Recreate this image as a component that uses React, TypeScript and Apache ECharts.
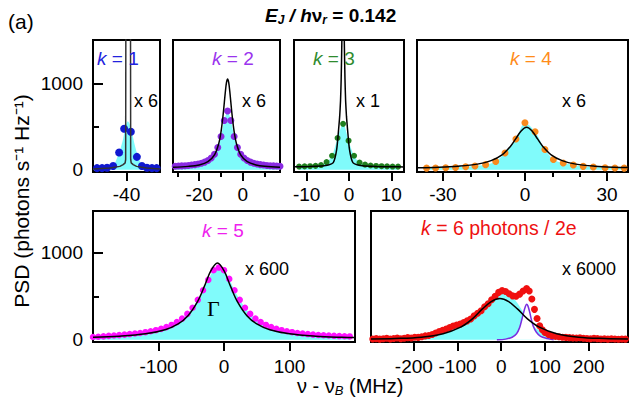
import React, { useEffect, useRef } from "react";
import * as echarts from "echarts";

const FONT = "'Liberation Sans', Arial, Helvetica, sans-serif";
const CYAN = "#80fbfb";

// ---------- k = 1 ----------
const k1PointsX = [-48.8, -47.3, -45.8, -44.0, -42.2, -40.7, -38.7, -36.9, -35.4, -33.9, -32.4, -31.0];
const k1PointsY = [20, 20, 25, 45, 200, 475, 440, 150, 45, 25, 20, 20];
const k1FillX = [-50, -46, -44, -43, -42, -41, -40.3, -39.6, -39, -38.3, -37.5, -36.8, -36, -35, -34, -30];
const k1FillY = [15, 20, 40, 120, 220, 360, 500, 560, 520, 420, 280, 180, 100, 50, 30, 15];
const k1FitX = [-50, -45, -42, -41, -40.4, -40.25, -40.15, -38.85, -38.75, -38.6, -38, -37, -34, -30];
const k1FitY = [10, 20, 40, 60, 80, 120, 3000, 3000, 120, 80, 60, 40, 20, 10];

// ---------- k = 2 ----------
const k2PointsX = [-31, -29.5, -28, -26.5, -25, -23.5, -22, -20.5, -19, -17.5, -16, -14.5, -13, -11.5, -10, -8.5, -7, -5.5, -4, -2.5, -1, 0.5, 2, 3.5, 5, 6.5, 8, 9.5, 11, 12.5, 14, 15.5, 17];
const k2PointsY = [42, 44, 46, 48, 51, 55, 60, 67, 76, 89, 107, 136, 181, 257, 386, 569, 680, 569, 386, 257, 181, 136, 107, 89, 76, 67, 60, 55, 51, 48, 46, 44, 42];
const k2FitX = [-32, -25, -20, -16, -13, -11, -10, -9, -8, -7.5, -7, -6.5, -6, -5, -4, -3, -1, 2, 6, 10, 17];
const k2FitY = [30, 40, 57, 94, 172, 309, 442, 648, 908, 1010, 1050, 1010, 908, 648, 442, 309, 172, 94, 57, 42, 31];

// ---------- k = 3 ----------
const k3PointsX = [-11.8, -10.5, -9.2, -7.9, -6.6, -5.3, -4.0, -2.7, -1.4, -0.1, 1.2, 2.5, 3.8, 5.1, 6.4, 7.7, 9.0, 10.3, 11.6];
const k3PointsY = [38, 40, 42, 46, 55, 90, 163, 368, 531, 337, 163, 85, 60, 50, 45, 42, 40, 38, 37];
const k3FitX = [-13, -9.4, -6.4, -4.9, -3.7, -2.9, -2.4, -2.2, -2.0, -1.85, -1.7, -1.55, -1.4, -1.25, -1.1, -0.95, -0.8, -0.6, -0.4, 0.1, 0.9, 2.1, 3.6, 6.6, 10.2, 13];
const k3FitY = [35, 38, 45, 55, 85, 240, 500, 620, 800, 1050, 1450, 2000, 2400, 2000, 1450, 1050, 800, 620, 500, 240, 85, 55, 45, 38, 35, 34];

// ---------- k = 4 ----------
const k4PointsX = [-36, -32.7, -29, -25.4, -21.7, -18.3, -14.4, -10.7, -7.3, -3.3, 0, 3.7, 7.3, 10.4, 14, 17.7, 21.3, 25, 29.3, 32.9, 36.3];
const k4PointsY = [20, 22, 25, 28, 35, 45, 60, 97, 194, 357, 545, 440, 235, 120, 78, 55, 40, 32, 25, 22, 20];
const k4FitX = [-39.5, -31.4, -24.4, -17.4, -12.4, -8.4, -5.4, -3.4, -1.4, 0.6, 2.6, 4.6, 6.6, 9.6, 13.6, 18.6, 25.6, 32.6, 37.7];
const k4FitY = [24, 30, 42, 66, 106, 173, 268, 357, 449, 492, 449, 357, 268, 173, 106, 66, 42, 30, 26];

// ---------- k = 5 ----------
const k5PointsX = [-200, -192, -184, -176, -168, -160, -152, -144, -136, -128, -120, -112, -104, -96, -88, -80, -72, -64, -56, -48, -40, -32, -24, -16, -8, 0, 8, 16, 24, 32, 40, 48, 56, 64, 72, 80, 88, 96, 104, 112, 120, 128, 136, 144, 152, 160, 168, 176, 184, 192];
const k5PointsY = [32, 36, 40, 45, 50, 54, 60, 66, 72, 79, 88, 98, 111, 126, 146, 171, 203, 244, 298, 368, 459, 569, 689, 800, 830, 800, 700, 569, 459, 368, 298, 244, 203, 171, 146, 126, 111, 98, 88, 79, 72, 66, 60, 56, 52, 49, 46, 43, 41, 39];
const k5FitX = [-200, -160, -120, -90, -70, -55, -40, -30, -20, -10, 0, 10, 20, 35, 50, 70, 100, 140, 180, 200];
const k5FitY = [29, 42, 69, 116, 183, 277, 445, 614, 795, 883, 795, 614, 445, 277, 183, 116, 69, 42, 29, 26];

// ---------- k = 6 ----------
const k6PointsX = [-294, -286, -278, -270, -262, -254, -246, -238, -230, -222, -214, -206, -198, -190, -182, -174, -166, -158, -150, -142, -134, -126, -118, -110, -102, -94, -86, -78, -70, -62, -54, -46, -38, -30, -22, -14, -6, 2, 10, 18, 26, 34, 42, 50, 58, 64, 70, 76, 82, 88, 94, 100, 108, 116, 124, 132, 140, 148, 156, 164, 172, 180, 188, 196, 204, 212, 220, 228, 236, 244, 252, 260, 268, 276, 284];
const k6PointsY = [10, 14, 8, 12, 18, 10, 15, 20, 12, 18, 25, 20, 30, 28, 35, 45, 50, 62, 78, 95, 110, 125, 140, 158, 170, 180, 200, 218, 240, 275, 305, 335, 380, 415, 460, 500, 545, 565, 555, 530, 505, 500, 525, 560, 590, 560, 470, 350, 245, 160, 115, 85, 62, 48, 40, 35, 30, 28, 25, 22, 20, 24, 18, 15, 12, 18, 14, 10, 12, 8, 12, 10, 6, 10, 8];
const k6FillX = [-298, -250, -200, -160, -130, -100, -80, -60, -40, -25, -10, 0, 10, 20, 30, 40, 50, 60, 70, 80, 100, 130, 180, 240, 290];
const k6FillY = [12, 18, 28, 50, 80, 150, 215, 300, 410, 480, 535, 550, 545, 520, 470, 400, 320, 240, 180, 130, 75, 40, 20, 12, 10];
const k6FitX = [-298, -243, -183, -133, -93, -66, -43, -23, -3, 17, 37, 60, 87, 127, 177, 237, 290];
const k6FitY = [10, 15, 30, 70, 145, 240, 355, 440, 475, 440, 355, 240, 145, 70, 30, 15, 10];
const k6PeakX = [-10, 10, 25, 35, 42, 47, 51, 55, 58, 61, 65, 69, 73, 80, 90, 105, 120];
const k6PeakY = [0, 8, 30, 70, 140, 230, 310, 380, 410, 390, 320, 230, 160, 90, 40, 15, 0];

// ---------- ticks ----------
const yTickLabels = [0, 1000];
const yMajorTicks = [1000];
const yMinorTicks = [500];

const pairs = (xs: number[], ys: number[]) => xs.map((x, i) => [x, ys[i]]);

const panels = [
  { grid: { left: 93, top: 40, width: 67, height: 132 }, xr: [-50, -30], yr: [-25, 1500], major: [-40], labels: [-40], minor: [] as number[], yAxisShown: true, margin: 13 },
  { grid: { left: 173, top: 40, width: 107, height: 132 }, xr: [-32, 17], yr: [-25, 1500], major: [-20, 0], labels: [-20, 0], minor: [-30, -10, 10], yAxisShown: false, margin: 13 },
  { grid: { left: 294, top: 40, width: 110, height: 132 }, xr: [-13, 13], yr: [-25, 1500], major: [-10, 0, 10], labels: [-10, 0, 10], minor: [], yAxisShown: false, margin: 13 },
  { grid: { left: 417, top: 40, width: 211, height: 132 }, xr: [-39.5, 37.7], yr: [-25, 1500], major: [-30, 0, 30], labels: [-30, 0, 30], minor: [-20, -10, 10, 20], yAxisShown: false, margin: 13 },
  { grid: { left: 93, top: 211, width: 262, height: 131 }, xr: [-200, 200], yr: [-25, 1480], major: [-100, 0, 100], labels: [-100, 0, 100], minor: [], yAxisShown: true, margin: 15 },
  { grid: { left: 371, top: 211, width: 257, height: 131 }, xr: [-298, 290], yr: [-25, 1480], major: [-200, -100, 0, 100, 200], labels: [-200, -100, 0, 100, 200], minor: [], yAxisShown: false, margin: 15 },
];

export default function App() {
  const ref = useRef<HTMLDivElement>(null);
  useEffect(() => {
    const chart = echarts.init(ref.current!, null, { renderer: "svg" });
    const grid: any[] = [];
    const xAxis: any[] = [];
    const yAxis: any[] = [];
    panels.forEach((p, i) => {
      grid.push({ ...p.grid, show: true, borderColor: "#000", borderWidth: 2, backgroundColor: "transparent" });
      xAxis.push({
        gridIndex: i, type: "value", min: p.xr[0], max: p.xr[1], position: "bottom",
        axisLine: { show: true, onZero: false, lineStyle: { color: "#000", width: 2 } },
        axisTick: { show: true, customValues: p.major, length: 9, lineStyle: { color: "#000", width: 2 } },
        axisLabel: { show: true, customValues: p.labels, fontSize: 19, color: "#000", fontFamily: FONT, margin: p.margin, formatter: (v: number) => String(v) },
        splitLine: { show: false },
      });
      xAxis.push({
        gridIndex: i, type: "value", min: p.xr[0], max: p.xr[1], position: "bottom",
        axisLine: { show: false, onZero: false },
        axisTick: p.minor.length ? { show: true, customValues: p.minor, length: 5, lineStyle: { color: "#000", width: 2 } } : { show: false },
        axisLabel: { show: false },
        splitLine: { show: false },
      });
      yAxis.push({
        gridIndex: i, type: "value", min: p.yr[0], max: p.yr[1], position: "left",
        axisLine: { show: false, onZero: false },
        axisTick: p.yAxisShown ? { show: true, inside: true, customValues: yMajorTicks, length: 10, lineStyle: { color: "#000", width: 2 } } : { show: false },
        axisLabel: p.yAxisShown ? { show: true, customValues: yTickLabels, fontSize: 19, color: "#000", fontFamily: FONT, margin: 10, formatter: (v: number) => String(v) } : { show: false },
        splitLine: { show: false },
      });
      yAxis.push({
        gridIndex: i, type: "value", min: p.yr[0], max: p.yr[1], position: "left",
        axisLine: { show: false, onZero: false },
        axisTick: p.yAxisShown ? { show: true, inside: true, customValues: yMinorTicks, length: 6, lineStyle: { color: "#000", width: 2 } } : { show: false },
        axisLabel: { show: false },
        splitLine: { show: false },
      });
    });

    const area = (i: number, data: number[][], smooth: number | boolean = 0.3) => ({
      type: "line", xAxisIndex: 2 * i, yAxisIndex: 2 * i, data, smooth, symbol: "none", silent: true,
      lineStyle: { width: 0, opacity: 0 }, areaStyle: { color: CYAN, opacity: 1 }, z: 1,
    });
    const dots = (i: number, data: number[][], color: string, size = 7) => ({
      type: "scatter", xAxisIndex: 2 * i, yAxisIndex: 2 * i, data, symbolSize: size, silent: true,
      itemStyle: { color, opacity: 1 }, z: 3,
    });
    const fit = (i: number, data: number[][], smooth: number | boolean = 0.3, color = "#000") => ({
      type: "line", xAxisIndex: 2 * i, yAxisIndex: 2 * i, data, smooth, symbol: "none", silent: true,
      lineStyle: { color, width: 1.5 }, z: 4,
    });

    const series: any[] = [
      area(0, pairs(k1FillX, k1FillY)),
      dots(0, pairs(k1PointsX, k1PointsY), "#1018d0", 8),
      fit(0, pairs(k1FitX, k1FitY), false, "#333"),

      area(1, pairs(k2PointsX, k2PointsY)),
      dots(1, pairs(k2PointsX, k2PointsY), "#8a2be2", 7),
      fit(1, pairs(k2FitX, k2FitY), 0.35),

      area(2, pairs(k3PointsX, k3PointsY)),
      dots(2, pairs(k3PointsX, k3PointsY), "#1f7f1f", 6),
      fit(2, pairs(k3FitX, k3FitY), 0.2),

      area(3, pairs(k4PointsX, k4PointsY)),
      dots(3, pairs(k4PointsX, k4PointsY), "#f88a1e", 7),
      fit(3, pairs(k4FitX, k4FitY), 0.35),

      area(4, pairs(k5PointsX, k5PointsY)),
      dots(4, pairs(k5PointsX, k5PointsY), "#ff10ff", 6.5),
      fit(4, pairs(k5FitX, k5FitY), 0.35),

      area(5, pairs(k6FillX, k6FillY)),
      {
        type: "line", xAxisIndex: 10, yAxisIndex: 10, data: pairs(k6PeakX, k6PeakY), smooth: 0.3, symbol: "none", silent: true,
        lineStyle: { color: "#7a2ee0", width: 1.5 }, areaStyle: { color: "#ffffff", opacity: 1 }, z: 2,
      },
      dots(5, pairs(k6PointsX, k6PointsY), "#f01010", 7),
      fit(5, pairs(k6FitX, k6FitY), 0.35),
    ];

    const label = (text: string, left: number, top: number, color: string, fontSize = 19) => ({
      text, left, top, padding: 0,
      textStyle: {
        fontSize, color, fontFamily: FONT, fontWeight: "normal",
        rich: { i: { fontStyle: "italic", fontWeight: "normal", fontSize, color, fontFamily: FONT } },
      },
    });

    const title: any[] = [
      label("(a)", 8, 11, "#000", 21),
      {
        text: "{bi|E}{sub|J}{bi| / h}{b|ν}{sub|r}{b| = 0.142}", left: 265, top: 4, padding: 0,
        textStyle: {
          rich: {
            bi: { fontSize: 19, fontWeight: "bold", fontStyle: "italic", fontFamily: FONT, color: "#000" },
            b: { fontSize: 19, fontWeight: "bold", fontFamily: FONT, color: "#000" },
            sub: { fontSize: 12, fontWeight: "bold", fontStyle: "italic", fontFamily: FONT, color: "#000", padding: [10, 0, 0, 0] },
          },
        },
      },
      label("{i|k} = 1", 97, 49, "#2222dd"),
      label("x 6", 134, 92, "#000", 18),
      label("{i|k} = 2", 212, 49, "#9a33ee"),
      label("x 6", 242, 92, "#000", 18),
      label("{i|k} = 3", 313, 49, "#2e8b2e"),
      label("x 1", 356, 92, "#000", 18),
      label("{i|k} = 4", 510, 49, "#ff8c1a"),
      label("x 6", 562, 92, "#000", 18),
      label("{i|k} = 5", 202, 221, "#ee22ee"),
      label("x 600", 245, 260, "#000", 18),
      { text: "Γ", left: 207, top: 297, padding: 0, textStyle: { fontSize: 22, color: "#000", fontFamily: "'Liberation Serif', 'DejaVu Serif', serif", fontWeight: "normal" } },
      label("{i|k} = 6 photons / 2e", 421, 218, "#ee1111", 19.5),
      label("x 6000", 562, 260, "#000", 18),
      {
        text: "{t|ν - ν}{sub|B}{t| (MHz)}", left: 297, top: 375, padding: 0,
        textStyle: {
          rich: {
            t: { fontSize: 20, fontWeight: "normal", fontFamily: FONT, color: "#000" },
            sub: { fontSize: 13, fontWeight: "normal", fontStyle: "italic", fontFamily: FONT, color: "#000", padding: [9, 0, 0, 0] },
          },
        },
      },
    ];

    const graphic: any[] = [
      {
        type: "text", x: 21, y: 201, rotation: Math.PI / 2, silent: true,
        style: { text: "PSD (photons s⁻¹ Hz⁻¹)", font: `21px ${FONT}`, fill: "#000", align: "center", verticalAlign: "middle" },
      },
    ];

    chart.setOption({ animation: false, backgroundColor: "#fff", grid, xAxis, yAxis, series, title, graphic });
    return () => chart.dispose();
  }, []);
  return <div ref={ref} style={{ position: "fixed", left: 0, top: 0, width: 631, height: 401, background: "#fff" }} />;
}
